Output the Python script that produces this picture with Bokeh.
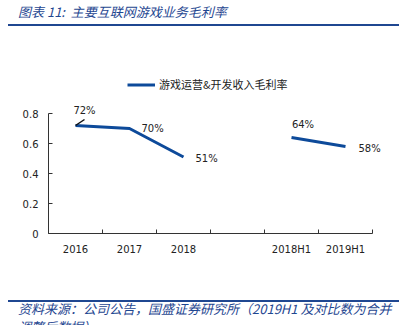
import math
from bokeh.plotting import figure
from bokeh.models import Range1d, FixedTicker, ColumnDataSource, Legend, LegendItem, Div
from bokeh.layouts import column
from bokeh.core.properties import value
from bokeh.embed import file_html
from bokeh.resources import INLINE

# ---------------- data ----------------
periods = ["2016", "2017", "2018", "", "2018H1", "2019H1"]
margin = [0.72, 0.70, 0.51, float("nan"), 0.64, 0.58]
label_text = ["72%", "70%", "51%", "", "64%", "58%"]
y_ticks = [0, 0.2, 0.4, 0.6, 0.8]
y_tick_labels = ["0", "0.2", "0.4", "0.6", "0.8"]
series_name = "游戏运营&开发收入毛利率"
title_text = "图表 11:&nbsp; 主要互联网游戏业务毛利率"
source_line1 = "资料来源：公司公告，国盛证券研究所（2019H1 及对比数为合并"
source_line2 = "调整后数据）"

# ---------------- style ----------------
LINE_COLOR = "#0D4A9A"
TITLE_COLOR = "#1F4791"
AX_COLOR = "#333333"
TXT_COLOR = "#222222"
CJK = "Noto Sans CJK SC"
LAT = "DejaVu Sans"
label_dx = [9, 12, 12, 0, 11.5, 13]
label_dy = [-15, 0, 1.5, 0, -12.6, 1.7]
label_align = ["center", "left", "left", "left", "center", "left"]

W = 404

# ---------------- header ----------------
head_html = (
    f'<div style="margin:0;padding:0;width:{W}px;height:40px;overflow:hidden;">'
    f'<div style="margin:5px 0 0 18px;font-family:\'{CJK}\';font-style:italic;'
    f'font-size:13px;line-height:13px;color:{TITLE_COLOR};white-space:nowrap;">{title_text}</div>'
    f'<div style="margin:6px 0 0 8px;width:391px;height:2px;background:{TITLE_COLOR};"></div>'
    '</div>'
)
head = Div(text=head_html, width=W, height=40, margin=0)

# ---------------- chart ----------------
n = len(periods)
xs = [i + 0.5 for i in range(n)]
frame_h = 193
px_per_cat = 54.0
left_border = 48
frame_w = W - left_border
p = figure(width=W, height=250, x_range=Range1d(0, frame_w / px_per_cat),
           y_range=Range1d(0, frame_h / 150.0),
           output_backend="svg", toolbar_location=None,
           min_border_left=left_border, min_border_right=0, min_border_top=0,
           min_border_bottom=57)
p.grid.visible = False
p.outline_line_color = None

src = ColumnDataSource(dict(x=xs, y=margin))
r = p.line("x", "y", source=src, line_color=LINE_COLOR, line_width=3)

keep = [i for i in range(n) if not math.isnan(margin[i])]
lsrc = ColumnDataSource(dict(
    x=[xs[i] for i in keep], y=[margin[i] for i in keep],
    t=[label_text[i] for i in keep], dx=[label_dx[i] for i in keep],
    dy=[label_dy[i] for i in keep], al=[label_align[i] for i in keep]))
p.text("x", "y", text="t", source=lsrc, x_offset="dx", y_offset="dy", text_align="al",
       text_baseline="middle", text_font=value(LAT), text_font_size="10px",
       text_color=TXT_COLOR)

# leader line for first label
p.segment(x0=[xs[0]], y0=[margin[0]], x1=[xs[0] + 9 / px_per_cat], y1=[margin[0] + 6 / 150.0],
          line_color="#111111", line_width=1.5)

# axes
xa = p.xaxis[0]
xa.ticker = FixedTicker(ticks=xs, minor_ticks=list(range(n + 1)))
xa.major_label_overrides = {x: lab for x, lab in zip(xs, periods)}
xa.bounds = (0, n)
xa.major_tick_in = 0
xa.major_tick_out = 0
xa.minor_tick_in = 4
xa.minor_tick_out = 0
xa.minor_tick_line_color = AX_COLOR
xa.axis_line_color = AX_COLOR
xa.major_label_standoff = 10
xa.major_label_text_font = LAT
xa.major_label_text_font_size = "10px"
xa.major_label_text_color = TXT_COLOR

ya = p.yaxis[0]
ya.ticker = FixedTicker(ticks=y_ticks)
ya.major_label_overrides = {t: l for t, l in zip(y_ticks, y_tick_labels)}
ya.bounds = (y_ticks[0], y_ticks[-1])
ya.major_tick_in = 4
ya.major_tick_out = 0
ya.minor_tick_line_color = None
ya.major_tick_line_color = AX_COLOR
ya.axis_line_color = AX_COLOR
ya.major_label_standoff = 10
ya.major_label_text_font = LAT
ya.major_label_text_font_size = "10px"
ya.major_label_text_color = TXT_COLOR

legend = Legend(items=[LegendItem(label=series_name, renderers=[r])],
                location=(79, 141), padding=0, margin=0, spacing=0,
                glyph_width=28, glyph_height=11, label_standoff=4,
                label_text_font=CJK, label_text_font_size="11px",
                label_text_color=TXT_COLOR, border_line_color=None,
                background_fill_alpha=0)
p.add_layout(legend)

# ---------------- footer ----------------
foot_html = (
    f'<div style="margin:0;padding:0;width:{W}px;height:35px;overflow:hidden;">'
    f'<div style="margin:10px 0 0 8px;width:391px;height:1.5px;background:{TITLE_COLOR};"></div>'
    f'<div style="margin:-2px 0 0 18px;font-family:\'{CJK}\';font-style:italic;'
    f'font-size:13px;line-height:18px;color:{TITLE_COLOR};white-space:nowrap;">'
    f'{source_line1}<br>{source_line2}</div>'
    '</div>'
)
foot = Div(text=foot_html, width=W, height=35, margin=0)

layout = column(head, p, foot, spacing=0)
open("out.html", "w").write(file_html(layout, INLINE))
